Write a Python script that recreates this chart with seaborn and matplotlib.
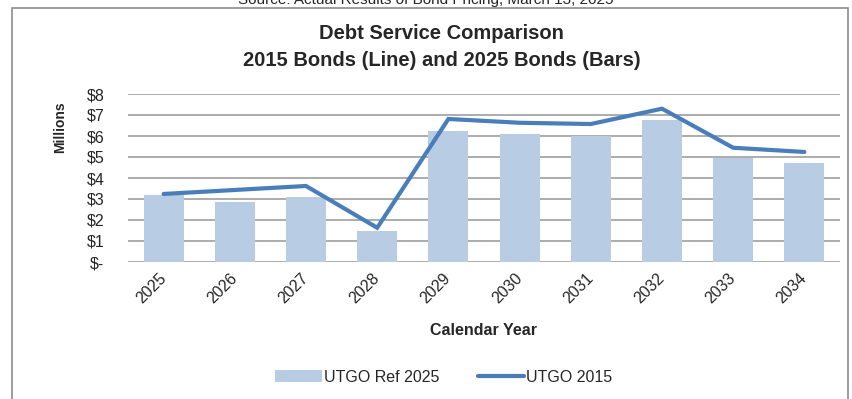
import numpy as np
import pandas as pd
import matplotlib
matplotlib.use("Agg")
import matplotlib.pyplot as plt
import seaborn as sns
from matplotlib import font_manager
from matplotlib.patches import Rectangle, Patch
from matplotlib.lines import Line2D
from matplotlib.ticker import FuncFormatter

years = ["2025", "2026", "2027", "2028", "2029", "2030", "2031", "2032", "2033", "2034"]
utgo_ref_2025 = [3.19, 2.87, 3.08, 1.48, 6.25, 6.08, 6.02, 6.76, 4.97, 4.70]
utgo_2015 = [3.24, 3.43, 3.62, 1.63, 6.81, 6.63, 6.57, 7.30, 5.44, 5.24]
y_ticks = [0, 1, 2, 3, 4, 5, 6, 7, 8]

title_text = "Debt Service Comparison\n2015 Bonds (Line) and 2025 Bonds (Bars)"
source_text = "Source: Actual Results of Bond Pricing, March 13, 2025"

sns.set_theme(style="white")
names = {f.name for f in font_manager.fontManager.ttflist}
narrow = "Liberation Sans Narrow" if "Liberation Sans Narrow" in names else "Liberation Sans"
plt.rcParams["font.family"] = [narrow, "DejaVu Sans"]

bar_color = "#b8cce4"
line_color = "#4a7ebb"
grid_color = "#a6a6a6"
text_color = "#262626"

df = pd.DataFrame({"year": years, "ref2025": utgo_ref_2025, "u2015": utgo_2015})

fig = plt.figure(figsize=(8.52, 3.99), dpi=100)
ax = fig.add_axes([128 / 852, 1 - 262 / 399, 712 / 852, 168 / 399])

sns.barplot(data=df, x="year", y="ref2025", color=bar_color, width=0.56,
            saturation=1, linewidth=0, ax=ax, zorder=2)
sns.pointplot(data=df, x="year", y="u2015", color=line_color, markers="",
              errorbar=None, ax=ax)
for ln in ax.lines:
    ln.set_linewidth(3.0)
    ln.set_zorder(3)
    ln.set_solid_capstyle("round")
    ln.set_solid_joinstyle("miter")

ax.set_ylim(0, 8)
ax.set_xlim(-0.5, len(years) - 0.5)
ax.set_yticks(y_ticks)
ax.yaxis.set_major_formatter(FuncFormatter(lambda v, p: "$-" if v == 0 else f"${int(v)}"))
ax.yaxis.grid(True, color=grid_color, linewidth=1.3, zorder=0)
ax.set_axisbelow(True)
for s in ax.spines.values():
    s.set_visible(False)
ax.tick_params(axis="both", length=0, labelsize=11.5, colors=text_color)
ax.tick_params(axis="y", pad=17)
for lab in ax.get_xticklabels():
    lab.set_rotation(45)
    lab.set_ha("right")
    lab.set_va("center")
    lab.set_rotation_mode("anchor")
ax.tick_params(axis="x", pad=10)

ax.set_xlabel("Calendar Year", fontsize=11.5, fontweight="bold", color=text_color, labelpad=12)
ax.set_ylabel("Millions", fontsize=10, fontweight="bold", color=text_color)
ax.yaxis.set_label_coords(-0.086, 0.80)

fig.text(0.518, 1 - 47 / 399, title_text, ha="center", va="center", fontsize=14.5,
         fontweight="bold", color=text_color, linespacing=1.55)
fig.text(0.5, 1.0, source_text, ha="center", va="center", fontsize=11, color=text_color)

fig.add_artist(Rectangle((12 / 852, -0.05), 836 / 852, 1.05 - 8 / 399,
                         transform=fig.transFigure, fill=False,
                         edgecolor="#8c8c8c", linewidth=1.2))

handles = [Patch(facecolor=bar_color, edgecolor="none", label="UTGO Ref 2025"),
           Line2D([0], [0], color=line_color, linewidth=3.0, label="UTGO 2015")]
fig.legend(handles=handles, loc="center", bbox_to_anchor=(0.521, 1 - 377 / 399),
           ncol=2, frameon=False, fontsize=11.5, handlelength=2.9,
           handletextpad=0.15, columnspacing=2.4)

fig.savefig("out.png", dpi=100)
